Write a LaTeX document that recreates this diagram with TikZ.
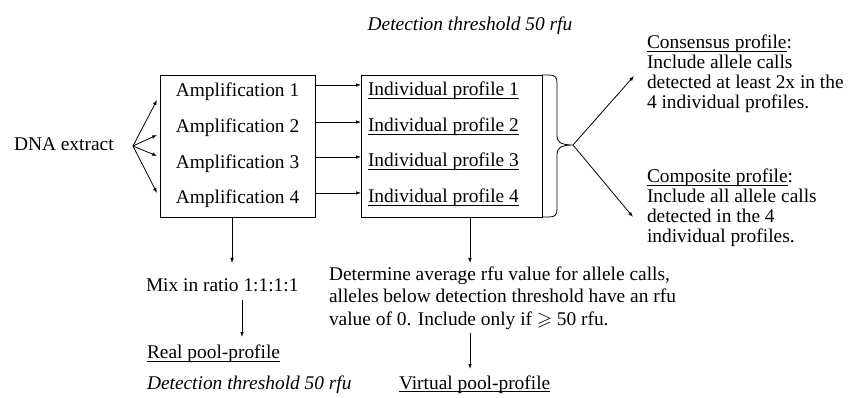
\documentclass[tikz,border=0pt]{standalone}
\usepackage{amssymb}
\usepackage{fontspec}
\setmainfont{Liberation Serif}
\usetikzlibrary{arrows.meta}
\newcommand{\ulx}[1]{\setbox0\hbox{#1}\rlap{\rule[-2.8pt]{\wd0}{0.8pt}}\box0}
\begin{document}
\begin{tikzpicture}[x=1pt,y=-1pt,
  txt/.style={font=\fontsize{19.4}{20}\selectfont, inner sep=0pt, outer sep=0pt, anchor=base west, align=left},
  ctxt/.style={txt, anchor=base},
  arr/.style={-{Latex[length=5pt,width=3.6pt]}, line width=0.8pt},
  boxst/.style={draw, line width=0.9pt, inner sep=0pt, outer sep=0pt},
  bracest/.style={line width=0.8pt}
]
\useasboundingbox (0,0) rectangle (860,398);

% boxes
\node[boxst, minimum width=155pt, minimum height=142pt] (ampbox) at (237.5,146) {};
\node[boxst, minimum width=181pt, minimum height=142pt] (indbox) at (451.5,146) {};

% top label
\node[ctxt, font=\fontsize{19.4}{20}\selectfont\itshape] (dettop) at (470,31) {Detection threshold 50 rfu};

% DNA extract
\node[txt] (dna) at (14,151) {DNA extract};
\coordinate (split) at (133,146);

% amplification lines
\node[ctxt] (a1) at (237.5,97) {Amplification 1};
\node[ctxt] (a2) at (237.5,133) {Amplification 2};
\node[ctxt] (a3) at (237.5,169) {Amplification 3};
\node[ctxt] (a4) at (237.5,204) {Amplification 4};

% individual profile lines
\node[txt] (p1) at (368,96) {\ulx{Individual profile 1}};
\node[txt] (p2) at (368,132) {\ulx{Individual profile 2}};
\node[txt] (p3) at (368,167) {\ulx{Individual profile 3}};
\node[txt] (p4) at (368,203) {\ulx{Individual profile 4}};

% arrows from DNA extract into the amplification box
\coordinate (in1) at (157,100);
\coordinate (in2) at (157,135);
\coordinate (in3) at (157,156);
\coordinate (in4) at (157,193);
\foreach \i in {1,...,4}{\draw[arr] (split) -- (in\i);}

% arrows amplification -> individual profile
\foreach \i/\yy in {1/85,2/122,3/157,4/193}{
  \draw[arr] (ampbox.east |- 0,\yy) -- (indbox.west |- 0,\yy);
}

% brace
\coordinate (tip) at (573,145);
\draw[bracest] (indbox.north east) -- (549,75) .. controls (555,75) and (557,77) .. (557,83)
  -- (557,136) .. controls (557,142) and (561,145) .. (tip)
  .. controls (561,145) and (557,148) .. (557,154)
  -- (557,209) .. controls (557,215) and (555,217) .. (549,217) -- (indbox.south east);

% consensus / composite (anchor = baseline of the last line)
\node[txt] (cons) at (647,109) {\ulx{Consensus profile}:\\Include allele calls\\detected at least 2x in the\\4 individual profiles.};
\node[txt] (comp) at (647,243) {\ulx{Composite profile}:\\Include all allele calls\\detected in the 4\\individual profiles.};
\coordinate (ce) at (634,76);
\coordinate (co) at (633,217);
\draw[arr] (tip) -- (ce);
\draw[arr] (tip) -- (co);

% left column
\coordinate (mixtop) at (232,263);
\draw[arr] (ampbox.south -| 232,0) -- (mixtop);
\node[txt] (mix) at (146,291) {Mix in ratio 1:1:1:1};
\coordinate (m1) at (242,300);
\coordinate (m2) at (242,337);
\draw[arr] (m1) -- (m2);
\node[txt] (real) at (147,359) {\ulx{Real pool-profile}};
\node[txt, font=\fontsize{19.4}{20}\selectfont\itshape] (detbot) at (147,389) {Detection threshold 50 rfu};

% right column
\coordinate (dtop) at (470,263);
\draw[arr] (indbox.south -| 470,0) -- (dtop);
\node[txt, font=\fontsize{19.4}{22}\selectfont] (det) at (329,325) {Determine average rfu value for allele calls,\\alleles below detection threshold have an rfu\\value of 0. Include only if $\geqslant$ 50 rfu.};
\coordinate (v1) at (470,333);
\coordinate (v2) at (470,369);
\draw[arr] (v1) -- (v2);
\node[txt] (virt) at (399,389) {\ulx{Virtual pool-profile}};
\end{tikzpicture}
\end{document}
